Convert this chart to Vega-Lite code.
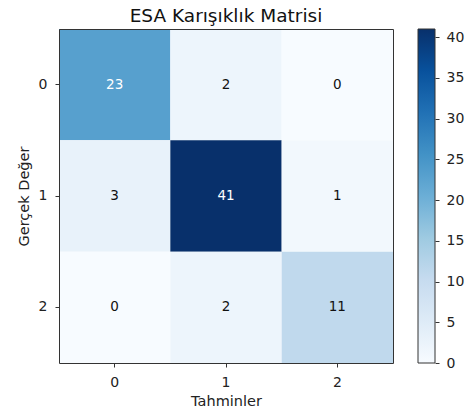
{
  "$schema": "https://vega.github.io/schema/vega-lite/v6.json",
  "padding": {"left": 16, "top": 6, "right": 5, "bottom": 5},
  "spacing": 24,
  "hconcat": [
    {
      "width": 334,
      "height": 334,
      "title": {"text": "ESA Karışıklık Matrisi", "fontSize": 18.5, "font": "DejaVu Sans", "fontWeight": "normal", "color": "#111", "offset": 4},
      "data": {
        "values": [
          {"actual": 0, "pred": 0, "value": 23},
          {"actual": 0, "pred": 1, "value": 2},
          {"actual": 0, "pred": 2, "value": 0},
          {"actual": 1, "pred": 0, "value": 3},
          {"actual": 1, "pred": 1, "value": 41},
          {"actual": 1, "pred": 2, "value": 1},
          {"actual": 2, "pred": 0, "value": 0},
          {"actual": 2, "pred": 1, "value": 2},
          {"actual": 2, "pred": 2, "value": 11}
        ]
      },
      "layer": [
        {
          "mark": {"type": "rect"},
          "encoding": {
            "x": {
              "field": "pred", "type": "ordinal", "title": "Tahminler",
              "scale": {"paddingInner": 0, "paddingOuter": 0},
              "axis": {"orient": "bottom", "labelAngle": 0, "labelPadding": 8, "titlePadding": 5, "domain": true, "zindex": 1}
            },
            "y": {
              "field": "actual", "type": "ordinal", "title": "Gerçek Değer",
              "scale": {"paddingInner": 0, "paddingOuter": 0},
              "axis": {"orient": "left", "labelPadding": 8, "titlePadding": 7, "domain": true, "zindex": 1}
            },
            "color": {
              "field": "value", "type": "quantitative",
              "scale": {
                "domain": [0, 41],
                "range": ["#f7fbff", "#deebf7", "#c6dbef", "#9ecae1", "#6baed6", "#4292c6", "#2171b5", "#08519c", "#08306b"],
                "interpolate": "rgb"
              },
              "legend": null
            }
          }
        },
        {
          "mark": {"type": "text", "fontSize": 13.5, "font": "DejaVu Sans"},
          "encoding": {
            "x": {
              "field": "pred", "type": "ordinal",
              "axis": {"orient": "top", "labels": false, "ticks": false, "title": null, "domain": true, "zindex": 1}
            },
            "y": {
              "field": "actual", "type": "ordinal",
              "axis": {"orient": "right", "labels": false, "ticks": false, "title": null, "domain": true, "zindex": 1}
            },
            "text": {"field": "value", "type": "quantitative"},
            "color": {"condition": {"test": "datum.value > 20.5", "value": "white"}, "value": "#111"}
          }
        }
      ],
      "resolve": {"axis": {"x": "independent", "y": "independent"}}
    },
    {
      "width": 17,
      "height": 334,
      "data": {"values": [{"lo": 0, "hi": 41, "left": 0, "right": 1}]},
      "mark": {
        "type": "rect",
        "stroke": "#333",
        "strokeWidth": 1,
        "fill": {
          "gradient": "linear",
          "x1": 0, "y1": 1, "x2": 0, "y2": 0,
          "stops": [
            {"offset": 0, "color": "#f7fbff"},
            {"offset": 0.125, "color": "#deebf7"},
            {"offset": 0.25, "color": "#c6dbef"},
            {"offset": 0.375, "color": "#9ecae1"},
            {"offset": 0.5, "color": "#6baed6"},
            {"offset": 0.625, "color": "#4292c6"},
            {"offset": 0.75, "color": "#2171b5"},
            {"offset": 0.875, "color": "#08519c"},
            {"offset": 1, "color": "#08306b"}
          ]
        }
      },
      "encoding": {
        "x": {"field": "left", "type": "quantitative", "scale": {"domain": [0, 1], "nice": false}, "axis": null},
        "x2": {"field": "right"},
        "y": {
          "field": "lo", "type": "quantitative",
          "scale": {"domain": [0, 41], "nice": false, "zero": false},
          "axis": {"orient": "right", "values": [0, 5, 10, 15, 20, 25, 30, 35, 40], "title": null, "domain": false, "labelPadding": 7, "labelFlush": false}
        },
        "y2": {"field": "hi"}
      }
    }
  ],
  "config": {
    "view": {"stroke": null},
    "axis": {
      "grid": false,
      "ticks": true,
      "tickSize": 4,
      "tickColor": "#333",
      "domainColor": "#333",
      "labelFont": "DejaVu Sans",
      "labelFontSize": 14,
      "labelColor": "#222",
      "titleFont": "DejaVu Sans",
      "titleFontSize": 14.5,
      "titleFontWeight": "normal",
      "titleColor": "#222"
    }
  }
}
